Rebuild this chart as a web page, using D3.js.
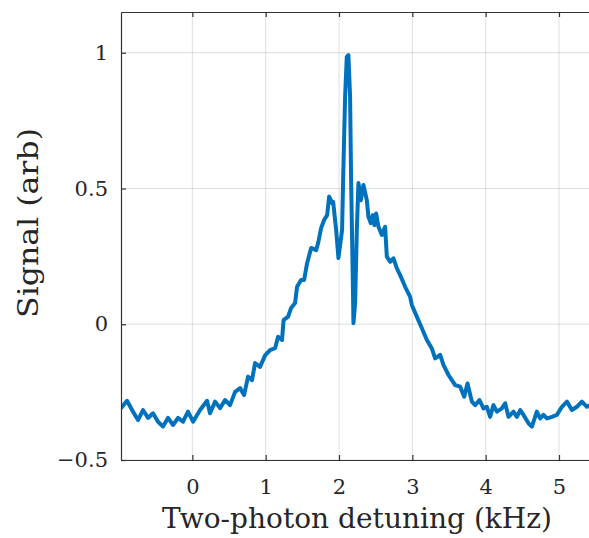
<!DOCTYPE html>
<html>
<head>
<meta charset="utf-8">
<script src="https://cdn.jsdelivr.net/npm/d3@7"></script>
<style>
  html, body { margin: 0; padding: 0; background: #fff; }
  text { font-family: "DejaVu Serif", "Liberation Serif", serif; fill: #262626; }
</style>
</head>
<body>
<div id="chart"></div>
<script>
// Data
const detuning = [
  -0.973, -0.891, -0.809, -0.741, -0.673, -0.604, -0.536, -0.468, -0.400, -0.332,
  -0.263, -0.195, -0.127, -0.059, 0.010, 0.105, 0.201, 0.241, 0.310, 0.378,
  0.446, 0.514, 0.583, 0.651, 0.705, 0.760, 0.814, 0.855, 0.923, 0.991,
  1.060, 1.128, 1.169, 1.223, 1.244, 1.306, 1.347, 1.401, 1.428, 1.483,
  1.524, 1.565, 1.620, 1.688, 1.715, 1.756, 1.797, 1.838, 1.865, 1.906,
  1.920, 1.961, 1.992, 2.042, 2.056, 2.083, 2.106, 2.128, 2.151, 2.165,
  2.188, 2.197, 2.220, 2.243, 2.265, 2.298, 2.333, 2.379, 2.401, 2.434,
  2.461, 2.483, 2.506, 2.538, 2.584, 2.629, 2.652, 2.697, 2.742, 2.789,
  2.834, 2.902, 2.970, 2.993, 3.061, 3.130, 3.198, 3.266, 3.311, 3.379,
  3.424, 3.493, 3.539, 3.584, 3.652, 3.707, 3.752, 3.812, 3.857, 3.915,
  3.970, 4.016, 4.061, 4.106, 4.153, 4.221, 4.266, 4.311, 4.379, 4.426,
  4.471, 4.516, 4.584, 4.630, 4.698, 4.743, 4.789, 4.835, 4.903, 4.971,
  5.040, 5.108, 5.176, 5.244, 5.312, 5.381, 5.450
]
const signal = [
  -0.309, -0.282, -0.322, -0.353, -0.316, -0.345, -0.328, -0.359, -0.377, -0.345,
  -0.371, -0.345, -0.359, -0.322, -0.359, -0.316, -0.282, -0.328, -0.285, -0.309,
  -0.279, -0.298, -0.249, -0.235, -0.261, -0.193, -0.206, -0.143, -0.157, -0.115,
  -0.095, -0.088, -0.046, -0.058, 0.015, 0.028, 0.060, 0.078, 0.138, 0.163,
  0.163, 0.225, 0.281, 0.273, 0.299, 0.354, 0.384, 0.402, 0.470, 0.446,
  0.451, 0.347, 0.244, 0.347, 0.531, 0.838, 0.985, 0.991, 0.838, 0.531,
  0.163, 0.004, 0.078, 0.347, 0.520, 0.457, 0.513, 0.457, 0.396, 0.372,
  0.402, 0.365, 0.408, 0.359, 0.329, 0.359, 0.249, 0.230, 0.243, 0.206,
  0.181, 0.138, 0.101, 0.071, 0.028, -0.015, -0.058, -0.089, -0.126, -0.113,
  -0.150, -0.187, -0.206, -0.224, -0.230, -0.267, -0.218, -0.285, -0.298, -0.279,
  -0.310, -0.304, -0.341, -0.298, -0.322, -0.310, -0.291, -0.341, -0.322, -0.341,
  -0.316, -0.334, -0.365, -0.377, -0.322, -0.347, -0.334, -0.347, -0.341, -0.334,
  -0.304, -0.285, -0.316, -0.304, -0.285, -0.304, -0.295
]
const xTicks = [0, 1, 2, 3, 4, 5]
const yTicks = [-0.5, 0, 0.5, 1]
const xLabel = 'Two-photon detuning (kHz)'
const yLabel = 'Signal (arb)'

const dataset = detuning.map((d, i) => ({ x: d, y: signal[i] }))

// Dimensions
const dims = { width: 589, height: 538, left: 121, right: 592, top: 12, bottom: 460 }

const svg = d3.select('#chart')
  .append('svg')
  .attr('width', dims.width)
  .attr('height', dims.height)

// Scales
const xScale = d3.scaleLinear()
  .domain([-0.973, 5.45])
  .range([dims.left, dims.right])
const yScale = d3.scaleLinear()
  .domain([-0.5, 1.15])
  .range([dims.bottom, dims.top])

// grid
const grid = svg.append('g').attr('stroke', '#262626').attr('stroke-opacity', 0.15).attr('stroke-width', 1)
grid.selectAll('.gx').data(xTicks).join('line')
  .attr('x1', d => xScale(d)).attr('x2', d => xScale(d))
  .attr('y1', dims.top).attr('y2', dims.bottom)
grid.selectAll('.gy').data(yTicks).join('line')
  .attr('x1', dims.left).attr('x2', dims.right)
  .attr('y1', d => yScale(d)).attr('y2', d => yScale(d))

// line
svg.append('clipPath').attr('id', 'clip')
  .append('rect').attr('x', dims.left).attr('y', dims.top)
  .attr('width', dims.right - dims.left).attr('height', dims.bottom - dims.top)

const lineGenerator = d3.line()
  .x(d => xScale(d.x))
  .y(d => yScale(d.y))

svg.append('path')
  .datum(dataset)
  .attr('clip-path', 'url(#clip)')
  .attr('d', lineGenerator)
  .attr('fill', 'none')
  .attr('stroke', '#0072BD')
  .attr('stroke-width', 4)
  .attr('stroke-linejoin', 'round')

// axes (MATLAB style box, ticks inside)
const fmt = d => d < 0 ? '\u2212' + Math.abs(d) : String(d)

svg.append('g')
  .attr('transform', `translate(0, ${dims.bottom})`)
  .call(d3.axisBottom(xScale).tickValues(xTicks).tickSizeInner(-5).tickSizeOuter(0).tickPadding(19).tickFormat(fmt))
svg.append('g')
  .attr('transform', `translate(0, ${dims.top})`)
  .call(d3.axisTop(xScale).tickValues(xTicks).tickSizeInner(-5).tickSizeOuter(0).tickFormat(''))
svg.append('g')
  .attr('transform', `translate(${dims.left}, 0)`)
  .call(d3.axisLeft(yScale).tickValues(yTicks).tickSizeInner(-5).tickSizeOuter(0).tickPadding(13).tickFormat(fmt))

svg.selectAll('.domain, .tick line').attr('stroke', '#333').attr('stroke-width', 1.2)
svg.selectAll('.tick text').attr('font-size', 21).attr('font-family', null).style('fill', '#262626')

// labels
svg.append('text')
  .attr('x', 357)
  .attr('y', 528)
  .attr('text-anchor', 'middle')
  .attr('font-size', 27)
  .attr('textLength', 390)
  .attr('lengthAdjust', 'spacingAndGlyphs')
  .text(xLabel)

svg.append('text')
  .attr('transform', `translate(38, 223) rotate(-90)`)
  .attr('text-anchor', 'middle')
  .attr('font-size', 27)
  .attr('textLength', 190)
  .attr('lengthAdjust', 'spacingAndGlyphs')
  .text(yLabel)
</script>
</body>
</html>
